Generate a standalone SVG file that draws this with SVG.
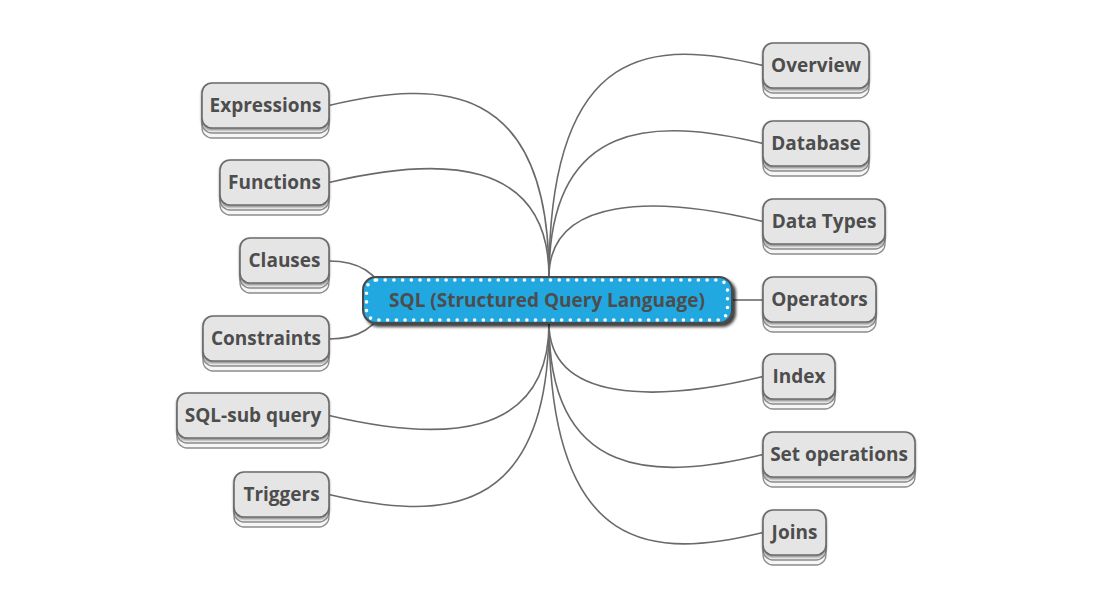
<svg xmlns="http://www.w3.org/2000/svg" width="1103" height="610" viewBox="0 0 1103 610">
<defs>
<style>
.bg{fill:#ffffff}
.link{fill:none;stroke:#6a6a6a;stroke-width:1.6}
.layer{fill:#f6f6f6;stroke:#8c8c8c;stroke-width:1.3}
.box{fill:#e5e5e5;stroke:#6b6b6b;stroke-width:1.6;filter:url(#sh)}
.lbl{font-family:"Open Sans","Noto Sans","Liberation Sans",sans-serif;font-weight:700;font-size:19px;fill:#4d4d4d;text-anchor:middle}
.core{fill:#22a8e0;stroke:#4a4a4a;stroke-width:2;filter:url(#sh2)}
.dots{fill:none;stroke:#ffffff;stroke-width:3.6;stroke-linecap:round;stroke-dasharray:0 8.7}
</style>
<filter id="sh" x="-10%" y="-20%" width="120%" height="150%">
<feDropShadow dx="0" dy="1.5" stdDeviation="0.8" flood-color="#000" flood-opacity="0.45"/>
</filter>
<filter id="sh2" x="-10%" y="-30%" width="120%" height="170%">
<feDropShadow dx="3" dy="3" stdDeviation="1.5" flood-color="#000" flood-opacity="0.75"/>
</filter>
</defs>
<rect class="bg" width="1103" height="610"/>
<g id="connectors">
<path class="link" d="M549,277 C549,39.5 656,39.5 763,65.5"/>
<path class="link" d="M549,277 C549,117.5 656,117.5 763,143.5"/>
<path class="link" d="M549,277 C549,195.5 656,195.5 763,221.5"/>
<path class="link" d="M732,300 L763,300"/>
<path class="link" d="M549,323 C549,402.5 656,402.5 763,376.5"/>
<path class="link" d="M549,323 C549,480.5 656,480.5 763,454.5"/>
<path class="link" d="M549,323 C549,558.5 656,558.5 763,532.5"/>
<path class="link" d="M549,277 C549,79.5 439,79.5 329,105.5"/>
<path class="link" d="M549,277 C549,156.5 439,156.5 329,182.5"/>
<path class="link" d="M329,261 C358,261 378,272 388,300"/>
<path class="link" d="M329,339 C358,339 378,328 388,300"/>
<path class="link" d="M549,323 C549,441.5 439,441.5 329,415.5"/>
<path class="link" d="M549,323 C549,520.5 439,520.5 329,494.5"/>
</g>
<g id="center">
<rect class="core" x="363" y="277" width="369" height="46" rx="13"/>
<rect class="dots" x="366.5" y="280" width="361" height="40" rx="10"/>
<text class="lbl" x="547" y="307">SQL (Structured Query Language)</text>
</g>
<g id="overview">
<rect class="layer" x="763" y="53" width="106" height="45" rx="10"/>
<rect class="layer" x="763" y="48" width="106" height="45" rx="10"/>
<rect class="box" x="763" y="43" width="106" height="45" rx="10"/>
<text class="lbl" x="816" y="72">Overview</text>
</g>
<g id="database">
<rect class="layer" x="763" y="131" width="106" height="45" rx="10"/>
<rect class="layer" x="763" y="126" width="106" height="45" rx="10"/>
<rect class="box" x="763" y="121" width="106" height="45" rx="10"/>
<text class="lbl" x="816" y="150">Database</text>
</g>
<g id="datatypes">
<rect class="layer" x="763" y="209" width="122" height="45" rx="10"/>
<rect class="layer" x="763" y="204" width="122" height="45" rx="10"/>
<rect class="box" x="763" y="199" width="122" height="45" rx="10"/>
<text class="lbl" x="824" y="228">Data Types</text>
</g>
<g id="operators">
<rect class="layer" x="763" y="287" width="113" height="45" rx="10"/>
<rect class="layer" x="763" y="282" width="113" height="45" rx="10"/>
<rect class="box" x="763" y="277" width="113" height="45" rx="10"/>
<text class="lbl" x="819.5" y="306">Operators</text>
</g>
<g id="index">
<rect class="layer" x="763" y="364" width="72" height="45" rx="10"/>
<rect class="layer" x="763" y="359" width="72" height="45" rx="10"/>
<rect class="box" x="763" y="354" width="72" height="45" rx="10"/>
<text class="lbl" x="799" y="383">Index</text>
</g>
<g id="setoperations">
<rect class="layer" x="763" y="442" width="152" height="45" rx="10"/>
<rect class="layer" x="763" y="437" width="152" height="45" rx="10"/>
<rect class="box" x="763" y="432" width="152" height="45" rx="10"/>
<text class="lbl" x="839" y="461">Set operations</text>
</g>
<g id="joins">
<rect class="layer" x="763" y="520" width="63" height="45" rx="10"/>
<rect class="layer" x="763" y="515" width="63" height="45" rx="10"/>
<rect class="box" x="763" y="510" width="63" height="45" rx="10"/>
<text class="lbl" x="794.5" y="539">Joins</text>
</g>
<g id="expressions">
<rect class="layer" x="202" y="93" width="127" height="45" rx="10"/>
<rect class="layer" x="202" y="88" width="127" height="45" rx="10"/>
<rect class="box" x="202" y="83" width="127" height="45" rx="10"/>
<text class="lbl" x="265.5" y="112">Expressions</text>
</g>
<g id="functions">
<rect class="layer" x="220" y="170" width="109" height="45" rx="10"/>
<rect class="layer" x="220" y="165" width="109" height="45" rx="10"/>
<rect class="box" x="220" y="160" width="109" height="45" rx="10"/>
<text class="lbl" x="274.5" y="189">Functions</text>
</g>
<g id="clauses">
<rect class="layer" x="240" y="248" width="89" height="45" rx="10"/>
<rect class="layer" x="240" y="243" width="89" height="45" rx="10"/>
<rect class="box" x="240" y="238" width="89" height="45" rx="10"/>
<text class="lbl" x="284.5" y="267">Clauses</text>
</g>
<g id="constraints">
<rect class="layer" x="203" y="326" width="126" height="45" rx="10"/>
<rect class="layer" x="203" y="321" width="126" height="45" rx="10"/>
<rect class="box" x="203" y="316" width="126" height="45" rx="10"/>
<text class="lbl" x="266" y="345">Constraints</text>
</g>
<g id="subquery">
<rect class="layer" x="177" y="403" width="152" height="45" rx="10"/>
<rect class="layer" x="177" y="398" width="152" height="45" rx="10"/>
<rect class="box" x="177" y="393" width="152" height="45" rx="10"/>
<text class="lbl" x="253" y="422">SQL-sub query</text>
</g>
<g id="triggers">
<rect class="layer" x="234" y="482" width="95" height="45" rx="10"/>
<rect class="layer" x="234" y="477" width="95" height="45" rx="10"/>
<rect class="box" x="234" y="472" width="95" height="45" rx="10"/>
<text class="lbl" x="281.5" y="501">Triggers</text>
</g>
</svg>
